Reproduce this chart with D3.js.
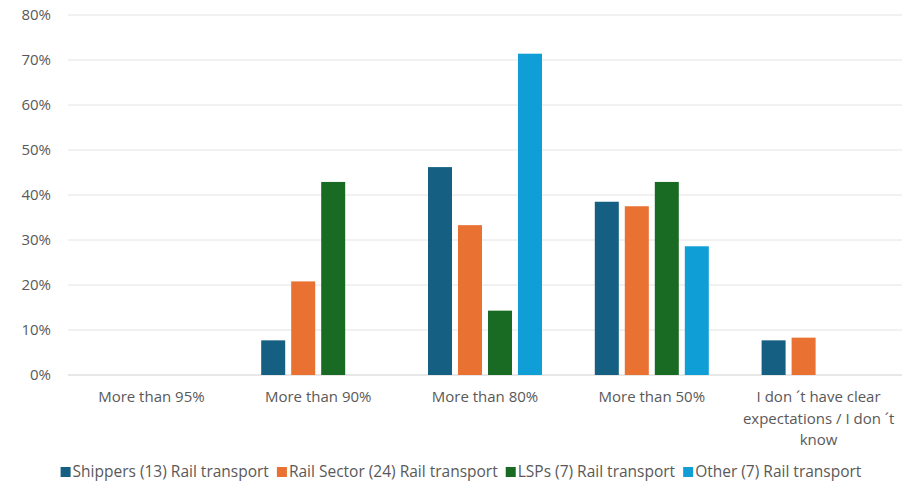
<!DOCTYPE html>
<html>
<head>
<meta charset="utf-8">
<script src="https://cdn.jsdelivr.net/npm/d3@7"></script>
<style>
  body { margin: 0; background: #fff; }
  text { font-family: "Open Sans", sans-serif; fill: #595959; }
</style>
</head>
<body>
<svg id="chart"></svg>
<script>
const categories = ["More than 95%", "More than 90%", "More than 80%", "More than 50%",
  "I don\u00b4t have clear expectations / I don\u00b4t know"];
const seriesNames = ["Shippers (13) Rail transport", "Rail Sector (24) Rail transport",
  "LSPs (7) Rail transport", "Other (7) Rail transport"];
const shippers = [0, 7.7, 46.2, 38.5, 7.7];
const railSector = [0, 20.8, 33.3, 37.5, 8.3];
const lsps = [0, 42.9, 14.3, 42.9, 0];
const other = [0, 0, 71.4, 28.6, 0];
const yTicks = [0, 10, 20, 30, 40, 50, 60, 70, 80];
const colors = ["#156082", "#e97132", "#196b24", "#0f9ed5"];

const width = 902, height = 485;
const margin = { top: 15, right: 0, bottom: 110, left: 68 };
const series = [shippers, railSector, lsps, other];
const fs = "15px";

const svg = d3.select("#chart").attr("width", width).attr("height", height);

const x = d3.scaleBand().domain(categories).range([margin.left, width - margin.right]);
const x1 = d3.scaleBand().domain(d3.range(series.length)).range([0, 120]).paddingInner(0.2).paddingOuter(0.1);
const y = d3.scaleLinear().domain([0, 80]).range([height - margin.bottom, margin.top]);

// gridlines
svg.append("g")
  .selectAll("line")
  .data(yTicks)
  .join("line")
  .attr("x1", margin.left).attr("x2", width - margin.right)
  .attr("y1", d => y(d)).attr("y2", d => y(d))
  .attr("stroke", d => d === 0 ? "#d0d0d0" : "#e4e4e4")
  .attr("stroke-width", 1);

// y labels
svg.append("g")
  .selectAll("text")
  .data(yTicks)
  .join("text")
  .attr("x", 51).attr("y", d => y(d))
  .attr("dy", "0.35em")
  .attr("text-anchor", "end")
  .style("font-size", fs)
  .text(d => d + "%");

// bars
const groups = svg.append("g")
  .selectAll("g")
  .data(categories)
  .join("g")
  .attr("transform", d => `translate(${x(d) + x.bandwidth() / 2 - 60},0)`);

groups.selectAll("rect")
  .data((c, i) => series.map((s, k) => ({ k, v: s[i] })).filter(d => d.v > 0))
  .join("rect")
  .attr("x", d => x1(d.k))
  .attr("width", x1.bandwidth())
  .attr("y", d => y(d.v))
  .attr("height", d => y(0) - y(d.v))
  .attr("fill", d => colors[d.k]);

// category labels
const wrapLabels = {
  "I don\u00b4t have clear expectations / I don\u00b4t know":
    ["I don \u00b4t have clear", "expectations / I don \u00b4t", "know"]
};
svg.append("g")
  .selectAll("text")
  .data(categories)
  .join("text")
  .attr("x", d => x(d) + x.bandwidth() / 2)
  .attr("y", 402)
  .attr("text-anchor", "middle")
  .style("font-size", fs)
  .each(function(d) {
    const lines = wrapLabels[d] || [d];
    d3.select(this).selectAll("tspan")
      .data(lines)
      .join("tspan")
      .attr("x", x(d) + x.bandwidth() / 2)
      .attr("dy", (l, i) => i === 0 ? 0 : 21.5)
      .text(l => l);
  });

// legend
const legend = svg.append("g");
let lx = 0;
const items = legend.selectAll("g")
  .data(seriesNames)
  .join("g");
items.append("rect")
  .attr("width", 10).attr("height", 10).attr("y", -5)
  .attr("fill", (d, i) => colors[i]);
items.append("text")
  .attr("x", 12).attr("dy", "0.35em")
  .style("font-size", "15.5px")
  .text(d => d);
items.each(function() {
  const w = d3.select(this).select("text").node().getComputedTextLength();
  d3.select(this).attr("transform", `translate(${lx},0)`);
  lx += 12 + w + 8;
});
const total = lx - 8;
legend.attr("transform", `translate(${(width - total) / 2 + 10},472)`);
</script>
</body>
</html>
